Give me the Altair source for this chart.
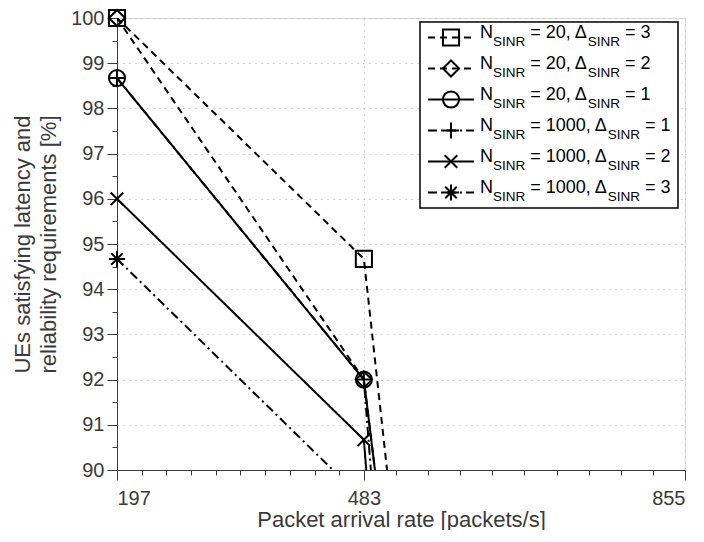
import altair as alt
import pandas as pd

# ---------------- data ----------------
x_vals = [197, 483, 855]
series_names = ["N20_D3", "N20_D2", "N20_D1", "N1000_D1", "N1000_D2", "N1000_D3"]
s_n20_d3 = [100.0, 94.67, 30.0]
s_n20_d2 = [100.0, 92.0, 34.0]
s_n20_d1 = [98.67, 92.0, 34.0]
s_n1000_d1 = [98.67, 92.0, 0.0]
s_n1000_d2 = [96.0, 90.67, 0.0]
s_n1000_d3 = [94.67, 89.33, 0.0]
series_values = [s_n20_d3, s_n20_d2, s_n20_d1, s_n1000_d1, s_n1000_d2, s_n1000_d3]

legend_nsinr = ["20", "20", "20", "1000", "1000", "1000"]
legend_dsinr = ["3", "2", "1", "1", "2", "3"]

x_major = [197, 483, 855]
y_major = list(range(90, 101))

x_title = "Packet arrival rate [packets/s]"
y_title = ["UEs satisfying latency and", "reliability requirements [%]"]

# ---------------- styles ----------------
FONT = "Liberation Sans"
GRAY = "#3a3a3a"
W, H = 568, 452

dash_range = [[7, 5], [7, 5], [1, 0], [9, 4, 2, 4], [1, 0], [9, 4, 2, 4]]
plus_path = "M-1,0L1,0M0,-1L0,1"
x_path = "M-0.78,-0.78L0.78,0.78M-0.78,0.78L0.78,-0.78"
ast_path = "M-1,0L1,0M0,-1L0,1M-0.72,-0.72L0.72,0.72M-0.72,0.72L0.72,-0.72"
shape_range = ["square", "diamond", "circle", plus_path, x_path, ast_path]

dash_scale = alt.Scale(domain=series_names, range=dash_range)
shape_scale = alt.Scale(domain=series_names, range=shape_range)

rows = []
for name, vals in zip(series_names, series_values):
    for xv, yv in zip(x_vals, vals):
        rows.append({"series": name, "x": xv, "value": yv})
df = pd.DataFrame(rows)

# minor tick positions (10 subdivisions per major interval, as in the reference)
x_ticks = []
for a, b in zip(x_major[:-1], x_major[1:]):
    for k in range(10):
        x_ticks.append(round(a + (b - a) * k / 10, 3))
x_ticks.append(x_major[-1])
y_ticks = [90 + 0.5 * k for k in range(21)]

xscale = alt.Scale(domain=[197, 855], nice=False, zero=False)
yscale = alt.Scale(domain=[90, 100], nice=False, zero=False)

x_major_test = "indexof([197,483,855], datum.value) >= 0"
y_major_test = "datum.value % 1 === 0"

x_axis = alt.Axis(
    values=x_ticks, title=x_title,
    labelExpr=f"{x_major_test} ? format(datum.value, 'd') : ''",
    labelOverlap=False, labelFont=FONT, labelFontSize=20, labelColor=GRAY,
    labelPadding=8, titleFont=FONT, titleFontSize=22, titleFontWeight="normal",
    titleColor=GRAY, titlePadding=1, domainColor=GRAY, domainWidth=1,
    tickColor=GRAY, tickWidth=1,
    tickSize={"condition": {"test": x_major_test, "value": 10}, "value": 5},
    grid=True, gridColor="#a8a8a8", gridDash=[1, 5], gridWidth=1,
    gridOpacity={"condition": {"test": x_major_test, "value": 1}, "value": 0},
)
y_axis = alt.Axis(
    values=y_ticks, title=y_title,
    labelExpr=f"{y_major_test} ? format(datum.value, 'd') : ''",
    labelOverlap=False, labelFont=FONT, labelFontSize=20, labelColor=GRAY,
    labelPadding=3, titleFont=FONT, titleFontSize=22, titleFontWeight="normal",
    titleColor=GRAY, titlePadding=10, titleLineHeight=26, domainColor=GRAY,
    domainWidth=1, tickColor=GRAY, tickWidth=1,
    tickSize={"condition": {"test": y_major_test, "value": 10}, "value": 5},
    grid=True, gridColor="#a8a8a8", gridDash=[1, 5], gridWidth=1,
    gridOpacity={"condition": {"test": y_major_test, "value": 1}, "value": 0},
)

base = alt.Chart(df)
lines = base.mark_line(color="black", strokeWidth=2, clip=True).encode(
    x=alt.X("x:Q", scale=xscale, axis=x_axis),
    y=alt.Y("value:Q", scale=yscale, axis=y_axis),
    strokeDash=alt.StrokeDash("series:N", scale=dash_scale, legend=None),
    detail="series:N",
)
points = base.transform_filter("datum.value >= 90").mark_point(
    color="black", filled=False, strokeWidth=2, size=260, opacity=1
).encode(
    x=alt.X("x:Q", scale=xscale, axis=x_axis),
    y=alt.Y("value:Q", scale=yscale, axis=y_axis),
    shape=alt.Shape("series:N", scale=shape_scale, legend=None),
)

# ---------------- custom legend (subscripts) ----------------
OX, OY = 117, 18  # plot origin in page pixels
box_l, box_r, box_t, box_b = 420 - OX, 678 - OX, 22 - OY, 208 - OY
row_h = (box_b - box_t) / 6
sym_l, sym_r, sym_c = 428 - OX, 474 - OX, 451 - OX
text_x0 = 480 - OX
MAIN, SUB = 18, 13.5

aw = {"N": 722, "S": 667, "I": 278, "R": 722, " ": 278, "=": 584, ",": 278,
      "\u0394": 668}
for d in "0123456789":
    aw[d] = 556


def tw(s, fs):
    return sum(aw.get(c, 556) for c in s) / 1000 * fs


leg_rows, text_rows = [], []
for i, name in enumerate(series_names):
    cy = box_t + row_h * (i + 0.5)
    leg_rows.append({"series": name, "lx1": sym_l, "lx2": sym_r, "mx": sym_c, "cy": cy})
    parts = [("N", MAIN), ("SINR", SUB), (f" = {legend_nsinr[i]}, \u0394", MAIN),
             ("SINR", SUB), (f" = {legend_dsinr[i]}", MAIN)]
    xx = text_x0
    for txt, fs in parts:
        lead = len(txt) - len(txt.lstrip(" "))
        xx += tw(" " * lead, fs)
        core = txt.lstrip(" ")
        ty = cy + 0.5 if fs == MAIN else cy + 8
        text_rows.append({"t": core, "tx": xx, "ty": ty, "fs": fs})
        xx += tw(core, fs)
leg_df = pd.DataFrame(leg_rows)
txt_df = pd.DataFrame(text_rows)

box = alt.Chart(pd.DataFrame({"a": [0]})).mark_rect(
    fill="white", stroke="black", strokeWidth=1.5
).encode(x=alt.value(box_l), x2=alt.value(box_r), y=alt.value(box_t), y2=alt.value(box_b))

leg_lines = alt.Chart(leg_df).mark_rule(color="black", strokeWidth=2).encode(
    x=alt.X("lx1:Q", scale=None, axis=None), x2="lx2:Q",
    y=alt.Y("cy:Q", scale=None, axis=None),
    strokeDash=alt.StrokeDash("series:N", scale=dash_scale, legend=None),
)
leg_pts = alt.Chart(leg_df).mark_point(
    color="black", filled=False, strokeWidth=2, size=260, opacity=1
).encode(
    x=alt.X("mx:Q", scale=None, axis=None),
    y=alt.Y("cy:Q", scale=None, axis=None),
    shape=alt.Shape("series:N", scale=shape_scale, legend=None),
)
leg_text = alt.Chart(txt_df).mark_text(
    align="left", baseline="alphabetic", font=FONT, color="black"
).encode(
    x=alt.X("tx:Q", scale=None, axis=None),
    y=alt.Y("ty:Q", scale=None, axis=None),
    text="t:N",
    size=alt.Size("fs:Q", scale=None, legend=None),
)

chart = alt.layer(lines, points, box, leg_lines, leg_pts, leg_text).properties(
    width=W, height=H,
    autosize=alt.AutoSizeParams(type="none"),
    padding={"left": 109, "top": 10, "right": 10, "bottom": 60},
).configure_view(stroke=None).configure(background="white")

chart.save("out.html", embed_options={"renderer": "svg", "actions": False})
